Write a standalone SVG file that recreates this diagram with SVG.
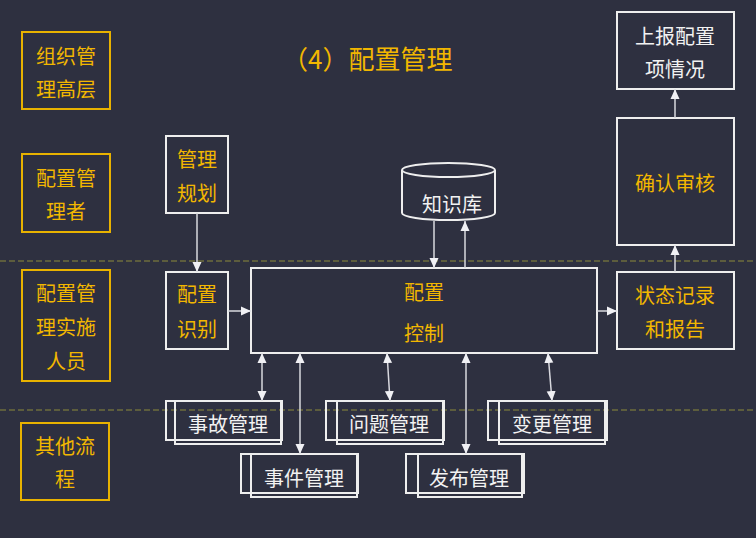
<svg xmlns="http://www.w3.org/2000/svg" width="756" height="538" viewBox="0 0 756 538">
<defs>
<marker id="arr" markerUnits="userSpaceOnUse" markerWidth="10" markerHeight="10" refX="10" refY="5" orient="auto-start-reverse">
<path d="M0,0.5 L10,5 L0,9.5 z" fill="#f0f0f4"/>
</marker>
<style>
text{font-family:"Noto Sans CJK SC","Noto Sans",sans-serif;font-size:20px;dominant-baseline:central;text-anchor:middle}
.y{fill:#f2b700}
.w{fill:#f2f2f2}
.lane{fill:none;stroke:#e8b200;stroke-width:2}
.box{fill:none;stroke:#eeeeee;stroke-width:2}
.con{fill:none;stroke:#d8d8de;stroke-width:1.5}
.sep{stroke:#6e6c3c;stroke-width:1.5;stroke-dasharray:6 3}
</style>
</defs>
<rect width="756" height="538" fill="#2e3040"/>
<line class="sep" x1="0" y1="261" x2="756" y2="261"/>
<line class="sep" x1="0" y1="410" x2="756" y2="410"/>
<text x="282" y="57" class="y" style="font-size:26px;text-anchor:start">（4）配置管理</text>
<g id="lane1"><rect class="lane" x="22" y="32" width="88" height="77"/><text x="66" y="55" class="y">组织管</text><text x="66" y="88" class="y">理高层</text></g>
<g id="lane2"><rect class="lane" x="22" y="154" width="88" height="78"/><text x="66" y="177" class="y">配置管</text><text x="66" y="210" class="y">理者</text></g>
<g id="lane3"><rect class="lane" x="22" y="270" width="88" height="111"/><text x="66" y="292" class="y">配置管</text><text x="66" y="326" class="y">理实施</text><text x="66" y="360" class="y">人员</text></g>
<g id="lane4"><rect class="lane" x="21" y="423" width="88" height="77"/><text x="65" y="445" class="y">其他流</text><text x="65" y="478" class="y">程</text></g>
<g id="plan"><rect class="box" x="166" y="136" width="62" height="77"/><text x="197" y="158" class="y">管理</text><text x="197" y="192" class="y">规划</text></g>
<g id="ident"><rect class="box" x="166" y="272" width="62" height="77"/><text x="197" y="293" class="y">配置</text><text x="197" y="328" class="y">识别</text></g>
<g id="control"><rect class="box" x="251" y="268" width="346" height="85"/><text x="424" y="291" class="y">配置</text><text x="424" y="332" class="y">控制</text></g>
<g id="kb"><path class="box" d="M402,170 L402,213 A46.5,7 0 0 0 495,213 L495,170"/><ellipse class="box" cx="448.5" cy="170" rx="46.5" ry="7"/><text x="452" y="203" class="w">知识库</text></g>
<g id="report"><rect class="box" x="617" y="12" width="117" height="77"/><text x="675" y="35" class="w">上报配置</text><text x="675" y="68" class="w">项情况</text></g>
<g id="audit"><rect class="box" x="617" y="118" width="117" height="127"/><text x="675" y="182" class="y">确认审核</text></g>
<g id="status"><rect class="box" x="617" y="272" width="117" height="77"/><text x="675" y="294" class="y">状态记录</text><text x="675" y="328" class="y">和报告</text></g>
<g id="incident"><rect class="box" x="175" y="401" width="106" height="43"/><rect class="box" x="166" y="401" width="116" height="39"/><text x="228" y="423" class="w">事故管理</text></g>
<g id="event"><rect class="box" x="251" y="454" width="106" height="43"/><rect class="box" x="241" y="454" width="117" height="39"/><text x="304" y="477" class="w">事件管理</text></g>
<g id="problem"><rect class="box" x="337" y="401" width="106" height="43"/><rect class="box" x="326" y="401" width="118" height="39"/><text x="389" y="423" class="w">问题管理</text></g>
<g id="release"><rect class="box" x="418" y="454" width="104" height="43"/><rect class="box" x="406" y="454" width="118" height="39"/><text x="469" y="477" class="w">发布管理</text></g>
<g id="change"><rect class="box" x="499" y="401" width="106" height="43"/><rect class="box" x="488" y="401" width="119" height="39"/><text x="552" y="423" class="w">变更管理</text></g>
<g id="connectors">
<line class="con" x1="197" y1="213" x2="197" y2="272" marker-end="url(#arr)"/>
<line class="con" x1="228" y1="311" x2="251" y2="311" marker-end="url(#arr)"/>
<line class="con" x1="597" y1="311" x2="617" y2="311" marker-end="url(#arr)"/>
<line class="con" x1="675" y1="272" x2="675" y2="245" marker-end="url(#arr)"/>
<line class="con" x1="675" y1="118" x2="675" y2="89" marker-end="url(#arr)"/>
<line class="con" x1="434" y1="221" x2="434" y2="268" marker-end="url(#arr)"/>
<line class="con" x1="465" y1="268" x2="465" y2="221" marker-end="url(#arr)"/>
<line class="con" x1="262" y1="353" x2="262" y2="401" marker-start="url(#arr)" marker-end="url(#arr)"/>
<line class="con" x1="300" y1="353" x2="300" y2="454" marker-start="url(#arr)" marker-end="url(#arr)"/>
<line class="con" x1="387" y1="353" x2="390" y2="401" marker-start="url(#arr)" marker-end="url(#arr)"/>
<line class="con" x1="466" y1="353" x2="466" y2="454" marker-start="url(#arr)" marker-end="url(#arr)"/>
<line class="con" x1="548" y1="353" x2="552" y2="401" marker-start="url(#arr)" marker-end="url(#arr)"/>
</g>
</svg>
